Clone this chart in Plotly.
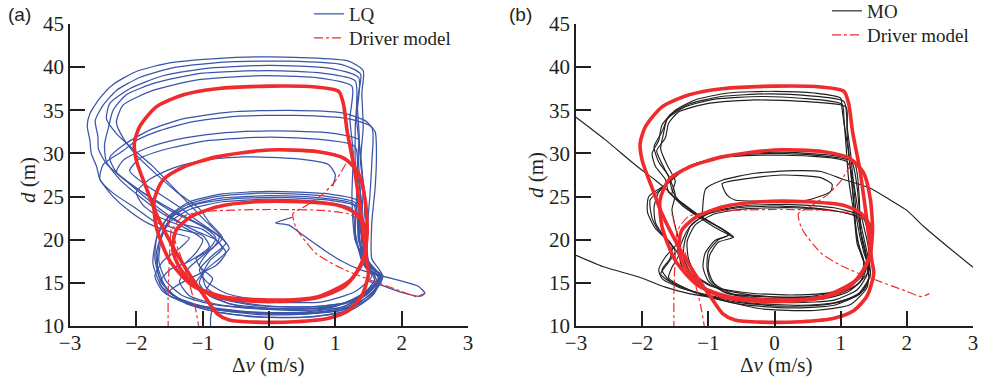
import plotly.graph_objects as go

# ---------------- Driver model (same trajectories in both panels) ----------------
drv_outer = [(1.05, 37.2), (0.7, 37.7), (0.0, 37.8), (-0.79, 37.5), (-1.29, 36.8), (-1.70, 35.4),
             (-1.95, 33.1), (-2.03, 31.2), (-2.0, 29.2), (-1.85, 26.0), (-1.70, 23.0), (-1.45, 19.2),
             (-1.2, 16.0), (-0.95, 13.2), (-0.78, 11.4), (-0.6, 10.7), (-0.2, 10.45), (0.4, 10.5),
             (0.9, 10.9), (1.2, 11.8), (1.4, 13.5), (1.5, 16.1), (1.47, 17.6), (1.4, 22.0),
             (1.29, 28.1), (1.18, 32.5), (1.12, 35.8), (1.05, 37.2)]
drv_middle = [(1.14, 29.4), (0.74, 30.2), (0.0, 30.4), (-0.79, 29.6), (-1.29, 28.4), (-1.6, 26.9),
              (-1.73, 24.6), (-1.70, 21.5), (-1.5, 17.6), (-1.19, 14.9), (-0.79, 13.4), (-0.3, 12.9),
              (0.3, 12.9), (0.74, 13.3), (1.14, 14.6), (1.40, 17.2), (1.48, 20.7), (1.45, 24.6),
              (1.35, 27.7), (1.14, 29.4)]
drv_inner = [(1.04, 24.0), (0.48, 24.4), (-0.2, 24.4), (-0.79, 23.8), (-1.19, 22.6), (-1.40, 21.1),
             (-1.45, 18.8), (-1.35, 16.8), (-1.09, 14.5), (-0.69, 13.4), (0.0, 13.0), (0.74, 13.4),
             (1.24, 15.4), (1.45, 18.4), (1.45, 21.5), (1.3, 23.1), (1.04, 24.0)]
drv_start_a = [(-1.52, 9.5), (-1.52, 14.0), (-1.50, 18.0), (-1.47, 21.0), (-1.3, 22.7), (-0.9, 23.3),
               (0.0, 23.5), (0.8, 23.4), (1.2, 23.0), (1.38, 22.3)]
drv_start_b = [(-1.05, 9.5), (-1.12, 12.5), (-1.22, 15.5), (-1.35, 18.5), (-1.5, 21.5), (-1.55, 23.0)]
drv_transient = [(1.16, 28.8), (1.0, 26.8), (0.8, 25.2), (0.55, 23.9), (0.36, 23.0), (0.40, 21.5),
                 (0.46, 20.7), (0.71, 18.4), (1.06, 16.8), (1.47, 15.5), (1.97, 14.1), (2.22, 13.4),
                 (2.34, 13.75)]

# ---------------- LQ controller, panel (a) ----------------
lq_loop_1 = [(1.42, 39.6), (1.2, 40.7), (0.5, 41.1), (0.0, 41.2), (-0.8, 41.0), (-1.5, 40.5), (-2.0, 39.5),
             (-2.35, 38.0), (-2.55, 36.4), (-2.7, 34.6), (-2.74, 33.2), (-2.7, 31.5), (-2.68, 30.0),
             (-2.6, 28.5), (-2.55, 27.0), (-2.35, 25.0), (-2.1, 23.3), (-1.8, 21.8), (-1.45, 20.8),
             (-1.2, 20.2), (-1.35, 19.0), (-1.6, 17.5), (-1.72, 15.8), (-1.6, 14.0), (-1.3, 12.8),
             (-0.8, 11.9), (0.0, 11.4), (0.7, 11.5), (1.2, 12.3), (1.55, 14.3), (1.68, 15.8), (1.45, 17.5),
             (1.42, 21.0), (1.45, 25.0), (1.38, 29.0), (1.42, 33.0), (1.40, 37.0), (1.42, 39.6)]
lq_loop_2 = [(1.38, 39.2), (1.1, 40.3), (0.3, 40.7), (-0.6, 40.6), (-1.4, 40.0), (-1.95, 38.8), (-2.3, 37.3),
             (-2.5, 35.6), (-2.62, 33.8), (-2.58, 32.0), (-2.57, 30.5), (-2.45, 28.8), (-2.15, 26.8),
             (-1.8, 24.5), (-1.45, 22.5), (-1.1, 21.0), (-0.8, 20.0), (-0.7, 19.0), (-0.9, 17.5),
             (-1.0, 16.0), (-0.95, 14.5), (-0.7, 13.2), (0.0, 12.3), (0.8, 12.3), (1.3, 13.0), (1.6, 15.0),
             (1.5, 17.0), (1.35, 20.0), (1.4, 24.0), (1.33, 28.0), (1.36, 32.0), (1.33, 36.0), (1.38, 39.2)]
lq_loop_3 = [(1.35, 38.8), (0.9, 39.9), (0.0, 40.2), (-0.9, 39.9), (-1.6, 39.0), (-2.1, 37.5), (-2.4, 35.8),
             (-2.45, 34.0), (-2.3, 32.3), (-2.05, 30.5), (-1.75, 28.5), (-1.5, 26.5), (-1.25, 24.5),
             (-1.0, 22.5), (-0.75, 20.6), (-0.6, 19.0), (-0.75, 17.8), (-0.95, 16.5), (-1.05, 15.0),
             (-0.9, 13.5), (-0.4, 12.2), (0.4, 11.8), (1.1, 12.2), (1.5, 13.8), (1.65, 15.5), (1.45, 18.0),
             (1.4, 22.0), (1.42, 26.0), (1.38, 30.0), (1.32, 34.0), (1.35, 38.8)]
lq_loop_4 = [(1.30, 38.4), (0.8, 39.3), (0.0, 39.6), (-1.0, 39.3), (-1.7, 38.2), (-2.15, 36.8), (-2.35, 35.0),
             (-2.42, 33.0), (-2.48, 31.0), (-2.45, 29.0), (-2.25, 27.0), (-1.95, 25.0), (-1.6, 23.0),
             (-1.3, 21.8), (-1.0, 21.2), (-0.8, 20.0), (-0.65, 18.5), (-0.8, 17.0), (-1.2, 15.5),
             (-1.5, 14.0), (-1.2, 12.6), (-0.5, 11.7), (0.4, 11.4), (1.1, 11.8), (1.5, 13.2), (1.7, 15.6),
             (1.5, 17.5), (1.38, 21.0), (1.35, 25.0), (1.3, 29.0), (1.3, 33.0), (1.30, 38.4)]
lq_loop_5 = [(1.25, 37.8), (0.7, 38.8), (-0.2, 39.0), (-1.1, 38.5), (-1.75, 37.3), (-2.2, 35.6), (-2.3, 33.6),
             (-2.2, 31.8), (-2.0, 29.8), (-1.7, 27.6), (-1.4, 25.6), (-1.05, 23.6), (-0.9, 22.0),
             (-0.7, 20.2), (-0.9, 18.7), (-1.05, 17.0), (-0.85, 15.5), (-0.95, 14.0), (-0.6, 12.6),
             (0.2, 12.0), (0.9, 12.1), (1.35, 13.3), (1.62, 15.3), (1.48, 17.2), (1.3, 20.0), (1.25, 25.0),
             (1.27, 30.0), (1.22, 34.0), (1.25, 37.8)]
lq_loop_6 = [(1.45, 33.8), (1.1, 34.7), (0.3, 35.0), (-0.6, 34.8), (-1.3, 34.0), (-1.8, 32.7), (-2.15, 31.2),
             (-2.4, 29.5), (-2.3, 27.8), (-2.0, 26.0), (-1.65, 24.3), (-1.3, 22.8), (-1.0, 21.6),
             (-0.75, 20.3), (-0.85, 19.0), (-1.1, 17.8), (-1.0, 16.2), (-1.1, 15.0), (-0.8, 13.3),
             (-0.2, 12.4), (0.6, 12.2), (1.2, 12.8), (1.55, 14.6), (1.7, 16.0), (1.55, 17.8), (1.55, 22.0),
             (1.6, 26.0), (1.62, 30.0), (1.6, 32.5), (1.45, 33.8)]
lq_loop_7 = [(1.55, 33.0), (1.2, 34.0), (0.4, 34.4), (-0.5, 34.3), (-1.2, 33.6), (-1.7, 32.5), (-2.0, 31.5),
             (-2.2, 30.3), (-2.5, 28.7), (-2.55, 27.0), (-2.35, 25.4), (-2.0, 23.6), (-1.7, 22.0),
             (-1.35, 21.2), (-1.0, 20.5), (-0.9, 19.2), (-1.2, 17.5), (-1.5, 16.5), (-1.65, 15.0),
             (-1.5, 13.5), (-1.0, 12.3), (-0.2, 11.6), (0.7, 11.6), (1.3, 12.4), (1.6, 14.3), (1.65, 16.0),
             (1.5, 17.5), (1.48, 21.0), (1.52, 25.0), (1.55, 29.0), (1.55, 33.0)]
lq_loop_8 = [(1.35, 31.6), (0.9, 32.4), (0.0, 32.6), (-0.8, 32.3), (-1.4, 31.6), (-1.85, 30.6), (-2.2, 29.2),
             (-2.3, 27.8), (-2.0, 26.0), (-1.7, 24.4), (-1.45, 23.2), (-1.2, 22.3), (-0.95, 21.3),
             (-0.8, 20.2), (-0.95, 18.5), (-1.2, 16.8), (-1.35, 15.2), (-1.2, 13.5), (-0.7, 12.4),
             (0.2, 12.0), (1.0, 12.3), (1.45, 13.9), (1.6, 15.6), (1.45, 17.3), (1.35, 21.0), (1.38, 25.0),
             (1.35, 29.0), (1.35, 31.6)]
lq_loop_9 = [(1.3, 30.8), (0.8, 31.6), (0.0, 31.9), (-0.9, 31.5), (-1.5, 30.6), (-1.95, 29.4), (-2.1, 28.0),
             (-1.85, 26.3), (-1.55, 24.8), (-1.3, 23.5), (-1.1, 22.3), (-0.8, 20.7), (-0.65, 19.6),
             (-0.85, 18.2), (-1.05, 16.5), (-0.95, 15.2), (-0.65, 13.8), (0.0, 12.8), (0.8, 12.8),
             (1.3, 14.0), (1.55, 15.8), (1.4, 17.5), (1.3, 21.0), (1.32, 25.0), (1.3, 30.8)]
lq_loop_10 = [(0.96, 26.2), (1.0, 27.5), (0.9, 28.7), (0.4, 29.4), (-0.4, 29.6), (-1.0, 29.2), (-1.45, 28.3),
              (-1.8, 27.0), (-2.0, 25.5), (-1.9, 24.0), (-1.65, 22.6), (-1.3, 21.5), (-1.0, 20.0),
              (-1.1, 18.5), (-1.3, 17.0)]
lq_low_1 = [(1.32, 24.6), (0.9, 25.3), (0.0, 25.6), (-0.7, 25.3), (-1.2, 24.4), (-1.5, 22.8), (-1.68, 20.7),
            (-1.72, 17.8), (-1.62, 15.0), (-1.38, 13.3), (-0.95, 12.2), (-0.3, 11.6), (0.5, 11.6),
            (1.1, 12.2), (1.5, 13.8), (1.68, 15.6), (1.45, 16.8), (1.38, 19.0), (1.35, 22.0), (1.32, 24.6)]
lq_low_2 = [(1.3, 24.3), (0.8, 25.1), (-0.1, 25.4), (-0.8, 25.0), (-1.25, 24.0), (-1.55, 22.3), (-1.7, 20.0),
            (-1.75, 17.3), (-1.62, 14.6), (-1.3, 12.9), (-0.8, 11.9), (-0.1, 11.3), (0.6, 11.4),
            (1.15, 12.0), (1.52, 13.6), (1.72, 15.8), (1.5, 17.0), (1.35, 20.0), (1.33, 22.5), (1.3, 24.3)]
lq_low_3 = [(1.28, 24.1), (0.7, 24.9), (0.0, 25.1), (-0.75, 24.8), (-1.2, 23.9), (-1.48, 22.5), (-1.62, 20.2),
            (-1.66, 17.5), (-1.55, 15.2), (-1.3, 13.5), (-0.85, 12.5), (-0.2, 12.0), (0.6, 12.0),
            (1.2, 12.7), (1.55, 14.3), (1.66, 15.7), (1.45, 17.0), (1.3, 20.5), (1.28, 24.1)]
lq_low_4 = [(1.35, 23.8), (0.9, 24.6), (0.1, 24.9), (-0.6, 24.7), (-1.15, 24.0), (-1.45, 22.8), (-1.6, 21.0),
            (-1.7, 18.4), (-1.66, 15.8), (-1.45, 13.6), (-1.0, 12.0), (-0.3, 11.1), (0.5, 11.0),
            (1.1, 11.6), (1.5, 13.2), (1.7, 15.4), (1.48, 16.6), (1.4, 19.5), (1.38, 22.0), (1.35, 23.8)]
lq_low_5 = [(1.25, 23.6), (0.8, 24.4), (0.0, 24.7), (-0.7, 24.4), (-1.2, 23.5), (-1.5, 22.0), (-1.65, 19.8),
            (-1.68, 17.0), (-1.55, 14.4), (-1.25, 12.6), (-0.7, 11.5), (0.0, 11.0), (0.7, 11.1),
            (1.25, 11.9), (1.58, 13.7), (1.68, 15.9), (1.45, 17.2), (1.3, 20.0), (1.25, 23.6)]
lq_start = [(0.35, 22.6), (0.1, 21.95), (0.3, 21.7), (0.5, 20.6), (0.85, 18.7), (1.1, 17.5), (1.35, 16.6),
            (1.7, 15.8), (2.0, 15.2), (2.25, 14.6), (2.35, 13.8), (2.28, 13.45), (2.0, 13.9), (1.7, 14.7),
            (1.5, 15.2)]
lq_tail = [(-0.88, 9.5), (-0.88, 11.0), (-0.85, 12.2)]

# ---------------- MO controller, panel (b) ----------------
mo_outer_1 = [(1.0, 36.4), (0.6, 37.0), (0.0, 37.2), (-0.7, 37.0), (-1.2, 36.2), (-1.5, 35.0), (-1.7, 33.3),
              (-1.75, 31.5), (-1.85, 30.0), (-1.8, 28.5), (-1.65, 27.0), (-1.6, 25.5), (-1.4, 24.3),
              (-1.1, 22.6), (-0.8, 21.3), (-0.68, 20.6), (-0.85, 20.0), (-1.0, 18.6), (-1.02, 16.8),
              (-0.97, 15.3), (-0.72, 13.8), (-0.2, 13.2), (0.5, 13.2), (1.0, 13.8), (1.28, 15.0),
              (1.38, 16.5), (1.3, 18.5), (1.22, 22.0), (1.18, 26.0), (1.12, 30.0), (1.05, 33.5),
              (1.02, 35.2), (1.0, 36.4)]
mo_outer_2 = [(1.05, 36.0), (0.5, 36.7), (-0.1, 36.9), (-0.8, 36.6), (-1.3, 35.7), (-1.6, 34.3), (-1.7, 32.5),
              (-1.82, 30.8), (-1.75, 29.0), (-1.6, 27.4), (-1.55, 25.8), (-1.45, 24.6), (-1.2, 23.0),
              (-0.9, 21.7), (-0.72, 20.9), (-0.62, 20.3), (-0.85, 19.7), (-0.98, 18.2), (-1.0, 16.5),
              (-0.92, 15.0), (-0.6, 13.6), (0.0, 13.0), (0.7, 13.1), (1.1, 13.9), (1.32, 15.4), (1.35, 17.5),
              (1.25, 20.0), (1.2, 24.0), (1.15, 28.0), (1.1, 32.0), (1.05, 36.0)]
mo_outer_3 = [(1.02, 35.7), (0.4, 36.4), (-0.2, 36.6), (-0.9, 36.3), (-1.35, 35.4), (-1.62, 34.0),
              (-1.68, 32.2), (-1.72, 30.5), (-1.62, 28.6), (-1.5, 26.8), (-1.55, 25.2), (-1.3, 23.6),
              (-1.0, 22.2), (-0.75, 21.0), (-0.7, 20.5), (-0.9, 19.9), (-1.05, 18.4), (-1.08, 16.8),
              (-1.0, 15.2), (-0.75, 13.9), (-0.2, 13.4), (0.5, 13.4), (1.0, 14.1), (1.3, 15.6), (1.35, 17.5),
              (1.25, 19.5), (1.2, 23.0), (1.12, 27.0), (1.08, 31.0), (1.05, 34.0), (1.02, 35.7)]
mo_outer_4 = [(1.08, 35.4), (0.5, 36.0), (-0.3, 36.2), (-1.0, 35.8), (-1.45, 34.8), (-1.6, 33.5),
              (-1.65, 31.8), (-1.78, 30.3), (-1.7, 28.8), (-1.58, 27.0), (-1.5, 25.2), (-1.55, 23.5),
              (-1.5, 21.5), (-1.45, 19.8), (-1.65, 18.0), (-1.75, 16.5), (-1.7, 15.5), (-1.45, 14.5),
              (-1.0, 13.6), (-0.4, 12.7), (0.4, 12.4), (1.0, 12.8), (1.35, 14.2), (1.45, 16.2), (1.35, 18.5),
              (1.25, 22.0), (1.2, 26.0), (1.15, 30.0), (1.1, 33.0), (1.08, 35.4)]
mo_mid_1 = [(1.15, 29.3), (0.5, 30.0), (0.0, 30.15), (-0.7, 29.8), (-1.2, 28.8), (-1.5, 27.5), (-1.7, 26.0),
            (-1.88, 24.6), (-1.85, 22.5), (-1.75, 21.0), (-1.6, 19.9), (-1.5, 18.6), (-1.62, 17.2),
            (-1.72, 16.0), (-1.5, 14.8), (-1.1, 13.6), (-0.5, 12.5), (0.2, 12.1), (0.9, 12.4), (1.3, 13.8),
            (1.45, 16.0), (1.4, 18.5), (1.3, 22.0), (1.25, 26.0), (1.15, 29.3)]
mo_mid_2 = [(1.2, 29.0), (0.6, 29.8), (-0.1, 30.0), (-0.8, 29.6), (-1.3, 28.5), (-1.55, 27.0), (-1.75, 25.5),
            (-1.82, 23.8), (-1.8, 22.0), (-1.68, 20.5), (-1.55, 19.3), (-1.58, 17.8), (-1.7, 16.5),
            (-1.58, 15.2), (-1.2, 13.9), (-0.6, 12.8), (0.1, 12.3), (0.8, 12.5), (1.25, 13.6), (1.42, 15.5),
            (1.38, 18.0), (1.3, 21.0), (1.28, 25.0), (1.2, 29.0)]
mo_mid_3 = [(1.1, 29.0), (0.5, 29.7), (-0.2, 29.8), (-0.9, 29.4), (-1.35, 28.2), (-1.6, 26.6), (-1.9, 25.0),
            (-1.92, 23.2), (-1.8, 21.3), (-1.6, 19.8), (-1.45, 18.2), (-1.55, 16.8), (-1.6, 15.6),
            (-1.35, 14.4), (-0.9, 13.2), (-0.2, 12.0), (0.6, 11.8), (1.15, 12.5), (1.4, 14.5), (1.42, 17.0),
            (1.32, 20.0), (1.25, 24.0), (1.1, 29.0)]
mo_in_1 = [(1.3, 22.8), (0.9, 23.7), (0.2, 24.1), (-0.5, 23.9), (-0.95, 23.2), (-1.25, 21.8), (-1.35, 20.0),
           (-1.38, 18.0), (-1.25, 16.0), (-0.95, 14.6), (-0.45, 13.7), (0.2, 13.3), (0.8, 13.5), (1.2, 14.5),
           (1.42, 16.3), (1.42, 19.0), (1.35, 21.5), (1.3, 22.8)]
mo_in_2 = [(1.25, 22.6), (0.8, 23.5), (0.1, 23.9), (-0.55, 23.7), (-1.05, 22.9), (-1.3, 21.3), (-1.42, 19.3),
           (-1.42, 17.3), (-1.28, 15.4), (-0.95, 14.0), (-0.4, 13.0), (0.3, 12.7), (0.9, 13.0), (1.25, 14.2),
           (1.4, 16.0), (1.38, 18.5), (1.3, 21.0), (1.25, 22.6)]
mo_in_3 = [(1.35, 22.4), (0.95, 23.3), (0.3, 23.7), (-0.4, 23.6), (-0.9, 23.0), (-1.2, 21.7), (-1.32, 19.8),
           (-1.3, 17.8), (-1.18, 15.8), (-0.9, 14.5), (-0.35, 13.8), (0.3, 13.6), (0.85, 13.9), (1.2, 15.0),
           (1.4, 16.8), (1.45, 19.2), (1.4, 21.2), (1.35, 22.4)]
mo_small = [(0.5, 24.6), (0.85, 25.6), (0.87, 26.4), (0.7, 27.2), (0.1, 27.5), (-0.5, 27.0), (-0.79, 26.5),
            (-0.72, 25.2), (-0.6, 24.6), (0.0, 24.5), (0.5, 24.6)]
mo_long_left = [(-3.0, 34.2), (-2.56, 31.6), (-2.06, 28.4), (-1.8, 26.9), (-1.6, 25.6), (-1.4, 24.0),
                (-1.1, 22.4), (-0.85, 21.2), (-0.62, 20.3)]
mo_long_bottom = [(-3.0, 18.2), (-2.56, 16.8), (-2.06, 15.7), (-1.65, 14.5), (-1.29, 13.75), (-0.9, 13.3),
                  (-0.4, 13.0)]
mo_long_right = [(-1.09, 23.0), (-1.04, 25.9), (-0.79, 26.9), (-0.3, 27.7), (0.3, 28.0), (0.7, 27.9),
                 (1.0, 27.1), (1.44, 26.0), (1.75, 24.6), (2.0, 23.4), (2.26, 21.5), (2.6, 19.3), (3.0, 16.8)]

X_TICKS = [-3, -2, -1, 0, 1, 2, 3]
Y_TICKS = [10, 15, 20, 25, 30, 35, 40, 45]

BLUE = "#3a55a8"
RED = "#ef2b2d"
BLACK = "#231f20"
SERIF = "Liberation Serif"


def path(*segments):
    """Concatenate (dv, d) point lists into one x/y pair split by gaps."""
    xs, ys = [], []
    for seg in segments:
        for dv, d in seg:
            xs.append(dv)
            ys.append(d)
        xs.append(None)
        ys.append(None)
    return xs, ys


fig = go.Figure()


def add_driver(xa, ya, legend):
    x, y = path(drv_outer, drv_middle, drv_inner)
    fig.add_trace(go.Scatter(x=x, y=y, xaxis=xa, yaxis=ya, mode="lines", showlegend=False,
                             line=dict(color=RED, width=3.6, shape="spline", smoothing=0.7)))
    x, y = path(drv_transient, drv_start_a, drv_start_b)
    fig.add_trace(go.Scatter(x=x, y=y, xaxis=xa, yaxis=ya, mode="lines", name="Driver model",
                             legend=legend,
                             line=dict(color=RED, width=1.2, dash="dashdot", shape="spline", smoothing=0.6)))


# panel (a): LQ
x, y = path(lq_loop_1, lq_loop_2, lq_loop_3, lq_loop_4, lq_loop_5, lq_loop_6, lq_loop_7, lq_loop_8,
            lq_loop_9, lq_loop_10, lq_low_1, lq_low_2, lq_low_3, lq_low_4, lq_low_5, lq_start, lq_tail)
fig.add_trace(go.Scatter(x=x, y=y, xaxis="x", yaxis="y", mode="lines", name="LQ", legend="legend",
                         line=dict(color=BLUE, width=1.25, shape="spline", smoothing=0.6)))
add_driver("x", "y", "legend3")

# panel (b): MO
x, y = path(mo_outer_1, mo_outer_2, mo_outer_3, mo_outer_4, mo_mid_1, mo_mid_2, mo_mid_3,
            mo_in_1, mo_in_2, mo_in_3, mo_small, mo_long_left, mo_long_bottom, mo_long_right)
fig.add_trace(go.Scatter(x=x, y=y, xaxis="x2", yaxis="y2", mode="lines", name="MO", legend="legend2",
                         line=dict(color=BLACK, width=1.15, shape="spline", smoothing=0.6)))
add_driver("x2", "y2", "legend4")

W, H = 984, 377
Y_DOM = [1 - 326 / H, 1 - 24 / H]

axis_common = dict(showgrid=False, zeroline=False, showline=True, linecolor=BLACK, linewidth=1.5,
                   ticks="inside", ticklen=15, tickwidth=1.5, tickcolor=BLACK, automargin=False,
                   tickfont=dict(family=SERIF, size=21, color=BLACK))


def legend_box(x_px, y_px):
    return dict(x=x_px / W, y=1 - y_px / H, xanchor="left", yanchor="middle", bgcolor="rgba(0,0,0,0)",
                font=dict(family=SERIF, size=19, color=BLACK))


fig.update_layout(
    width=W, height=H, margin=dict(l=0, r=0, t=0, b=0, autoexpand=False),
    paper_bgcolor="white", plot_bgcolor="white",
    xaxis=dict(domain=[70 / W, 468 / W], range=[-3, 3], tickvals=X_TICKS, anchor="y",
               ticklabelstandoff=-3, **axis_common),
    yaxis=dict(domain=Y_DOM, range=[10, 45], tickvals=Y_TICKS, anchor="x", **axis_common),
    xaxis2=dict(domain=[576 / W, 973 / W], range=[-3, 3], tickvals=X_TICKS, anchor="y2",
                ticklabelstandoff=-3, **axis_common),
    yaxis2=dict(domain=Y_DOM, range=[10, 45], tickvals=Y_TICKS, anchor="x2", **axis_common),
    legend=legend_box(309, 14),
    legend3=legend_box(309, 38),
    legend2=legend_box(827, 11),
    legend4=legend_box(827, 35),
    showlegend=True,
)

annotations = [
    dict(text="(a)", x=6 / W, y=1 - 15 / H, xanchor="left", yanchor="middle", showarrow=False,
         font=dict(family="Liberation Sans", size=19, color=BLACK)),
    dict(text="(b)", x=507 / W, y=1 - 15 / H, xanchor="left", yanchor="middle", showarrow=False,
         font=dict(family="Liberation Sans", size=19, color=BLACK)),
    dict(text="Δ<i>v</i> (m/s)", x=268 / W, y=1 - 365 / H, xanchor="center", yanchor="middle",
         showarrow=False, font=dict(family=SERIF, size=21, color=BLACK)),
    dict(text="Δ<i>v</i> (m/s)", x=776 / W, y=1 - 365 / H, xanchor="center", yanchor="middle",
         showarrow=False, font=dict(family=SERIF, size=21, color=BLACK)),
    dict(text="<i>d</i> (m)", x=28 / W, y=1 - 180 / H, xanchor="center", yanchor="middle", textangle=-90,
         showarrow=False, font=dict(family=SERIF, size=21, color=BLACK)),
    dict(text="<i>d</i> (m)", x=536 / W, y=1 - 175 / H, xanchor="center", yanchor="middle", textangle=-90,
         showarrow=False, font=dict(family=SERIF, size=21, color=BLACK)),
]
for a in annotations:
    a.update(xref="paper", yref="paper")
fig.update_layout(annotations=annotations)

fig.write_html("out.html")
